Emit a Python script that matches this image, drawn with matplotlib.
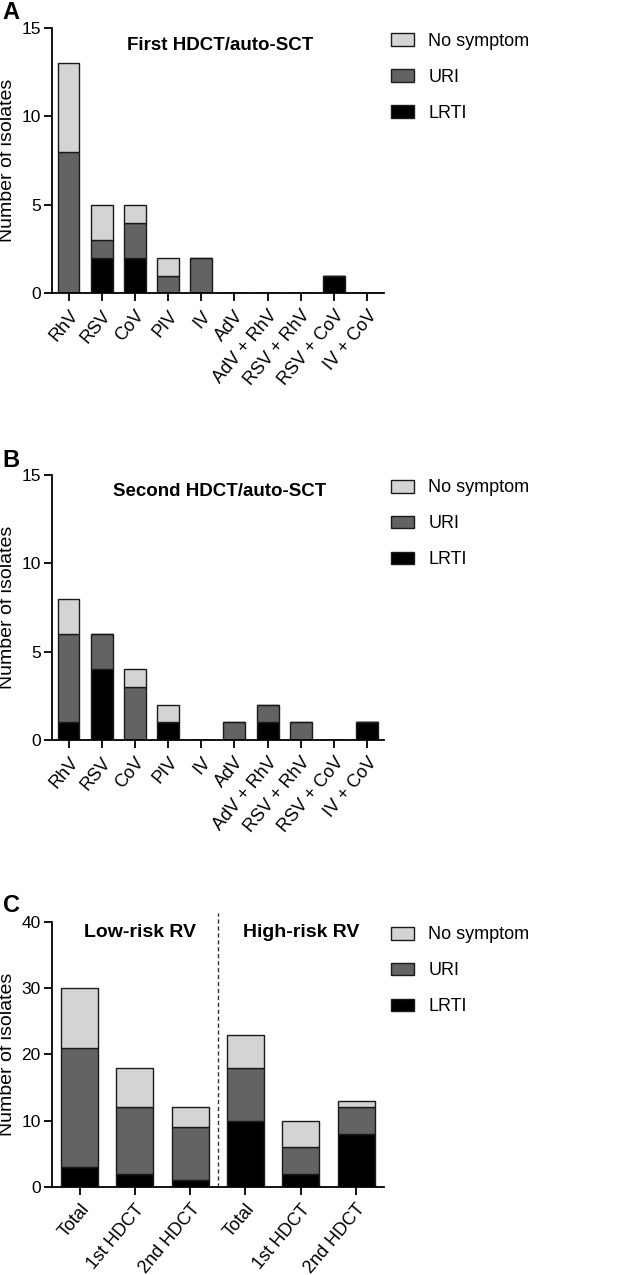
import numpy as np
import matplotlib
matplotlib.use('Agg')
import matplotlib.pyplot as plt
import matplotlib.transforms as mtransforms

plt.rcParams['font.family'] = ['Liberation Sans', 'DejaVu Sans']

# ---- data ----
viruses = ['RhV', 'RSV', 'CoV', 'PIV', 'IV', 'AdV', 'AdV + RhV', 'RSV + RhV', 'RSV + CoV', 'IV + CoV']

first_lrti = [0, 2, 2, 0, 0, 0, 0, 0, 1, 0]
first_uri  = [8, 1, 2, 1, 2, 0, 0, 0, 0, 0]
first_none = [5, 2, 1, 1, 0, 0, 0, 0, 0, 0]

second_lrti = [1, 4, 0, 1, 0, 0, 1, 0, 0, 1]
second_uri  = [5, 2, 3, 0, 0, 1, 1, 1, 0, 0]
second_none = [2, 0, 1, 1, 0, 0, 0, 0, 0, 0]

risk_groups = ['Total', '1st HDCT', '2nd HDCT', 'Total', '1st HDCT', '2nd HDCT']
risk_lrti = [3, 2, 1, 10, 2, 8]
risk_uri  = [18, 10, 8, 8, 4, 4]
risk_none = [9, 6, 3, 5, 4, 1]

c_none = '#d4d4d4'
c_uri = '#636363'
c_lrti = '#000000'
edge = '#1a1a1a'


def stacked(ax, labels, lrti, uri, none, width):
	x = np.arange(len(labels))
	lrti = np.array(lrti); uri = np.array(uri); none = np.array(none)
	kw = dict(width=width, edgecolor=edge, linewidth=1.0)
	ax.bar(x, lrti, color=c_lrti, label='LRTI', **kw)
	ax.bar(x, uri, bottom=lrti, color=c_uri, label='URI', **kw)
	ax.bar(x, none, bottom=lrti + uri, color=c_none, label='No symptom', **kw)
	ax.set_xticks(x)
	ax.set_xticklabels(labels, rotation=50, ha='right', rotation_mode='anchor', fontsize=13)
	ax.set_xlim(-0.5, len(labels) - 0.5)
	for s in ['top', 'right']:
		ax.spines[s].set_visible(False)
	for s in ['left', 'bottom']:
		ax.spines[s].set_linewidth(1.3)
	ax.tick_params(direction='out', length=6, width=1.3, labelsize=13)
	ax.tick_params(axis='y', pad=2, labelsize=12.5)
	ax.tick_params(axis='x', pad=4)
	ax.set_ylabel('Number of isolates', fontsize=14)
	ax.yaxis.set_label_coords(-0.108, 0.5)
	h, l = ax.get_legend_handles_labels()
	ax.legend(h[::-1], l[::-1], loc='upper left', bbox_to_anchor=(1.0, 1.01),
		frameon=False, fontsize=13, handlelength=1.28, handleheight=0.72,
		labelspacing=1.05, handletextpad=0.78, borderaxespad=0)


fig = plt.figure(figsize=(6.26, 12.75), dpi=100)

axA = fig.add_axes([0.083, 0.770, 0.530, 0.208])
stacked(axA, viruses, first_lrti, first_uri, first_none, 0.66)
axA.set_ylim(0, 15)
axA.set_yticks([0, 5, 10, 15])
axA.text(0.506, 0.936, 'First HDCT/auto-SCT', transform=axA.transAxes,
	ha='center', va='center', fontsize=13.5, fontweight='bold')

axB = fig.add_axes([0.083, 0.4196, 0.530, 0.208])
stacked(axB, viruses, second_lrti, second_uri, second_none, 0.66)
axB.set_ylim(0, 15)
axB.set_yticks([0, 5, 10, 15])
axB.text(0.506, 0.936, 'Second HDCT/auto-SCT', transform=axB.transAxes,
	ha='center', va='center', fontsize=13.5, fontweight='bold')

axC = fig.add_axes([0.083, 0.069, 0.530, 0.208])
stacked(axC, risk_groups, risk_lrti, risk_uri, risk_none, 0.67)
axC.set_ylim(0, 40)
axC.set_yticks([0, 10, 20, 30, 40])
trans = mtransforms.blended_transform_factory(axC.transData, axC.transAxes)
axC.plot([2.5, 2.5], [0, 1.034], transform=trans, color='#333333',
	linestyle=(0, (3, 2)), linewidth=1.0, clip_on=False)
axC.text(1.09, 0.958, 'Low-risk RV', transform=trans, ha='center', va='center',
	fontsize=14, fontweight='bold')
axC.text(4.0, 0.958, 'High-risk RV', transform=trans, ha='center', va='center',
	fontsize=14, fontweight='bold')

for lab, y in [('A', 0.990), ('B', 0.639), ('C', 0.290)]:
	fig.text(0.004, y, lab, fontsize=17, fontweight='bold', ha='left', va='center')

plt.savefig('out.png', dpi=100)
